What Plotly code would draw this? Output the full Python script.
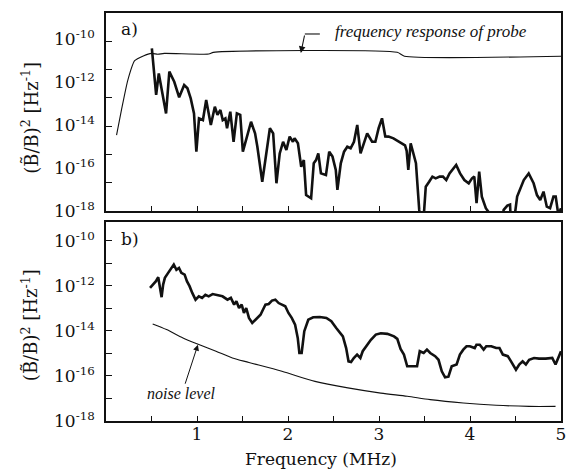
import numpy as np
import plotly.graph_objects as go

# ---------------- data ----------------
# Panel a: measured spectrum, frequency in MHz, log10 of (B~/B)^2 in Hz^-1
freq_a = [0.504, 0.526, 0.551, 0.580, 0.598, 0.616, 0.660, 0.696, 0.750, 0.804,
          0.859, 0.895, 0.931, 0.967, 0.993, 1.022, 1.065, 1.101, 1.123, 1.152,
          1.196, 1.225, 1.257, 1.283, 1.312, 1.330, 1.366, 1.402, 1.438, 1.475,
          1.504, 1.547, 1.594, 1.638, 1.663, 1.717, 1.764, 1.801, 1.837, 1.873,
          1.909, 1.946, 1.982, 2.018, 2.054, 2.072, 2.109, 2.145, 2.174, 2.199,
          2.254, 2.283, 2.308, 2.333, 2.362, 2.417, 2.453, 2.489, 2.525, 2.543,
          2.580, 2.616, 2.652, 2.688, 2.725, 2.761, 2.797, 2.833, 2.870, 2.924,
          2.960, 2.996, 3.033, 3.069, 3.105, 3.159, 3.250, 3.286, 3.304, 3.322,
          3.348, 3.377, 3.406, 3.442, 3.457, 3.486, 3.514, 3.551, 3.587, 3.623,
          3.667, 3.703, 3.739, 3.775, 3.848, 3.891, 3.938, 3.986, 4.022, 4.047,
          4.072, 4.101, 4.130, 4.174, 4.228, 4.300, 4.340, 4.370, 4.410, 4.440,
          4.450, 4.480, 4.518, 4.591, 4.645, 4.699, 4.736, 4.772, 4.808, 4.844,
          4.880, 4.917, 4.942, 4.971, 5.000]
log_power_a = [-10.43, -11.52, -12.60, -11.60, -11.99, -12.37, -13.46, -11.52, -11.99, -12.71,
               -12.14, -12.29, -12.76, -13.46, -15.24, -13.69, -13.77, -12.84, -13.38, -14.00,
               -13.15, -13.53, -13.30, -13.77, -13.69, -14.15, -13.38, -14.78, -13.46, -13.53,
               -15.24, -14.54, -13.85, -14.39, -15.00, -16.64, -15.32, -14.15, -14.39, -16.71,
               -15.32, -14.78, -15.16, -14.54, -14.78, -14.62, -14.85, -15.94, -15.63, -17.26,
               -17.41, -15.78, -15.63, -15.32, -16.25, -16.33, -15.24, -15.47, -16.09, -17.02,
               -15.78, -15.24, -15.01, -15.08, -14.78, -14.00, -15.32, -14.85, -14.39, -14.78,
               -14.78, -14.15, -13.69, -14.53, -14.54, -14.62, -14.85, -14.95, -15.20, -16.09,
               -14.85, -15.32, -15.78, -17.95, -18.60, -18.60, -16.87, -16.64, -16.40, -16.48,
               -16.40, -16.40, -16.56, -16.25, -15.86, -16.25, -16.56, -16.71, -16.48, -16.40,
               -17.64, -16.17, -17.33, -17.87, -18.19, -18.60, -18.60, -17.95, -17.75, -17.70,
               -18.60, -18.60, -17.33, -16.56, -16.25, -16.71, -17.26, -17.49, -17.10, -17.80,
               -17.87, -17.33, -17.33, -18.19, -17.87]

# Panel a: frequency response of probe
freq_probe = [0.116, 0.170, 0.240, 0.315, 0.410, 0.500, 0.570, 0.640, 1.130, 1.180, 3.200, 3.280, 5.000]
log_probe = [-14.47, -13.30, -11.91, -11.01, -10.79, -10.67, -10.71, -10.67, -10.70, -10.62, -10.62, -10.80, -10.80]

# Panel b: measured spectrum
freq_b = [0.484, 0.520, 0.549, 0.574, 0.592, 0.611, 0.628, 0.647, 0.683, 0.719,
          0.745, 0.774, 0.802, 0.828, 0.864, 0.889, 0.918, 0.948, 0.984, 1.020,
          1.056, 1.092, 1.128, 1.172, 1.226, 1.280, 1.335, 1.372, 1.408, 1.433,
          1.462, 1.491, 1.516, 1.541, 1.571, 1.607, 1.643, 1.698, 1.734, 1.752,
          1.788, 1.824, 1.861, 1.897, 1.933, 1.970, 2.005, 2.041, 2.078, 2.107,
          2.125, 2.150, 2.179, 2.223, 2.277, 2.350, 2.422, 2.476, 2.530, 2.603,
          2.639, 2.665, 2.693, 2.723, 2.759, 2.795, 2.821, 2.857, 2.911, 2.965,
          3.020, 3.092, 3.165, 3.201, 3.237, 3.274, 3.310, 3.418, 3.448, 3.491,
          3.527, 3.563, 3.617, 3.654, 3.690, 3.726, 3.763, 3.799, 3.853, 3.889,
          3.926, 3.962, 3.998, 4.052, 4.071, 4.107, 4.150, 4.179, 4.234, 4.288,
          4.324, 4.361, 4.415, 4.451, 4.505, 4.541, 4.578, 4.614, 4.650, 4.704,
          4.759, 4.832, 4.904, 4.940, 4.976, 5.000]
log_power_b = [-12.09, -11.94, -11.79, -11.61, -12.09, -12.50, -11.94, -11.64, -11.42, -11.20,
               -11.05, -11.28, -11.20, -11.42, -11.50, -11.79, -12.01, -12.31, -12.61, -12.46,
               -12.53, -12.39, -12.46, -12.36, -12.41, -12.46, -12.61, -12.53, -12.83, -12.68,
               -12.98, -12.83, -13.20, -12.98, -13.42, -13.64, -13.50, -13.28, -12.98, -12.83,
               -12.80, -12.65, -12.61, -12.76, -12.83, -12.90, -13.20, -13.42, -13.72, -14.31,
               -14.98, -14.98, -14.01, -13.50, -13.39, -13.38, -13.42, -13.57, -13.87, -14.24,
               -14.76, -15.35, -15.38, -15.20, -15.05, -15.20, -14.90, -14.68, -14.39, -14.16,
               -14.10, -14.13, -14.24, -14.35, -14.80, -15.05, -15.57, -15.57, -14.90, -14.98,
               -14.83, -14.98, -15.12, -15.28, -15.79, -16.06, -16.03, -15.57, -15.49, -15.05,
               -14.83, -14.68, -14.68, -14.76, -14.61, -14.61, -14.83, -14.68, -14.68, -14.76,
               -14.76, -15.05, -15.12, -15.35, -15.72, -15.49, -15.35, -15.49, -15.28, -15.20,
               -15.23, -15.23, -15.20, -15.49, -15.12, -14.90]

# Panel b: noise level
freq_noise = [0.513, 0.665, 0.846, 1.027, 1.209, 1.389, 1.571, 1.933, 2.296, 2.658,
              3.020, 3.310, 3.563, 3.926, 4.288, 4.650, 4.940]
log_noise = [-13.69, -13.94, -14.31, -14.61, -14.90, -15.20, -15.40, -15.79, -16.24, -16.53,
             -16.76, -16.90, -17.05, -17.20, -17.30, -17.35, -17.35]

x_tick_vals = [0.5, 1, 1.5, 2, 2.5, 3, 3.5, 4, 4.5, 5]
x_tick_text = ["", "1", "", "2", "", "3", "", "4", "", "5"]
y_label_exps = [-10, -12, -14, -16, -18]
y_b_tick_exps = [-18, -17, -16, -15, -14, -13, -12, -11, -10]

# ---------------- figure ----------------
SERIF = "DejaVu Serif"
ITAL = "Liberation Serif"
BLACK = "#111111"

fig = go.Figure()

fig.add_trace(go.Scatter(x=freq_probe, y=10 ** np.array(log_probe), mode="lines",
                         line=dict(color=BLACK, width=1.1, shape="spline", smoothing=0.6),
                         xaxis="x", yaxis="y", showlegend=False, hoverinfo="skip"))
fig.add_trace(go.Scatter(x=freq_a, y=10 ** np.array(log_power_a), mode="lines",
                         line=dict(color=BLACK, width=2.6),
                         xaxis="x", yaxis="y", showlegend=False))
fig.add_trace(go.Scatter(x=[], y=[], xaxis="x", yaxis="y3", showlegend=False))

fig.add_trace(go.Scatter(x=freq_noise, y=10 ** np.array(log_noise), mode="lines",
                         line=dict(color=BLACK, width=1.1, shape="spline", smoothing=0.8),
                         xaxis="x2", yaxis="y2", showlegend=False, hoverinfo="skip"))
fig.add_trace(go.Scatter(x=freq_b, y=10 ** np.array(log_power_b), mode="lines",
                         line=dict(color=BLACK, width=2.6),
                         xaxis="x2", yaxis="y2", showlegend=False))

tick_font = dict(family=SERIF, size=17, color=BLACK)
frame = dict(showline=True, linecolor=BLACK, linewidth=1.6, mirror=True,
             showgrid=False, zeroline=False)

fig.update_layout(
    width=570, height=472,
    margin=dict(l=106, r=4, t=13, b=51),
    paper_bgcolor="white", plot_bgcolor="white",
    xaxis=dict(domain=[0, 1], anchor="y", range=[0, 5], tickvals=x_tick_vals,
               ticks="inside", ticklen=5, tickwidth=1.3, tickcolor=BLACK,
               showticklabels=False, **frame),
    yaxis=dict(domain=[0.5147, 1.0], anchor="x", type="log", range=[-18, -8.79],
               tickvals=[10.0 ** e for e in y_label_exps],
               ticktext=["10<sup>%d</sup>" % e for e in y_label_exps],
               ticks="", tickfont=tick_font, ticklabelstandoff=6, **frame),
    yaxis3=dict(overlaying="y", anchor="x", side="left", range=[0, 7],
                tickvals=[1, 2, 3, 4, 5, 6], ticks="inside", ticklen=6, tickwidth=1.3,
                tickcolor=BLACK, showticklabels=False, showgrid=False, zeroline=False,
                showline=False),
    xaxis2=dict(domain=[0, 1], anchor="y2", range=[0, 5], tickvals=x_tick_vals,
                ticktext=x_tick_text, ticks="inside", ticklen=5, tickwidth=1.3,
                tickcolor=BLACK, tickfont=tick_font, ticklabelstandoff=-3, **frame),
    yaxis2=dict(domain=[0, 0.4877], anchor="x2", type="log", range=[-18, -9.16],
                tickvals=[10.0 ** e for e in y_b_tick_exps],
                ticktext=[("10<sup>%d</sup>" % e) if e % 2 == 0 else "" for e in y_b_tick_exps],
                ticks="inside", ticklen=6, tickwidth=1.3, tickcolor=BLACK,
                tickfont=tick_font, ticklabelstandoff=6, **frame),
)

ytitle = "(B\u0303/B)<sup>2</sup> [Hz<sup>-1</sup>]"
C = dict(xanchor="center", yanchor="middle")
ann = [
    dict(text=ytitle, xref="paper", yref="paper", x=-0.167, y=0.743, textangle=-90,
         showarrow=False, font=dict(family=SERIF, size=18, color=BLACK), **C),
    dict(text=ytitle, xref="paper", yref="paper", x=-0.167, y=0.235, textangle=-90,
         showarrow=False, font=dict(family=SERIF, size=18, color=BLACK), **C),
    dict(text="Frequency (MHz)", xref="paper", yref="paper", x=0.472, y=-0.093,
         showarrow=False, font=dict(family=SERIF, size=17, color=BLACK), **C),
    dict(text="a)", xref="x", yref="y domain", x=0.26, y=0.919, showarrow=False,
         font=dict(family=SERIF, size=17, color=BLACK), **C),
    dict(text="b)", xref="x2", yref="y2 domain", x=0.26, y=0.915, showarrow=False,
         font=dict(family=SERIF, size=17, color=BLACK), **C),
    dict(text="<i>frequency response of probe</i>", xref="x", yref="y domain",
         x=3.576, y=0.909, showarrow=False, font=dict(family=ITAL, size=17, color=BLACK), **C),
    dict(text="", xref="x", yref="y", x=2.141, y=-10.65, showarrow=True,
         ax=4, ay=-19, arrowhead=2, arrowsize=1.2, arrowwidth=1.1, arrowcolor=BLACK),
    dict(text="<i>noise level</i>", xref="x2", yref="y2", x=1.01, y=-14.61,
         showarrow=True, ax=-16, ay=49, arrowhead=2, arrowsize=1.2, arrowwidth=1.0,
         arrowcolor=BLACK, font=dict(family=ITAL, size=16, color=BLACK)),
]
fig.update_layout(annotations=ann)
fig.add_shape(type="line", xref="x", yref="y domain", x0=2.185, x1=2.35, y0=0.894, y1=0.894,
              line=dict(color=BLACK, width=1.1))

fig.write_html("out.html")
